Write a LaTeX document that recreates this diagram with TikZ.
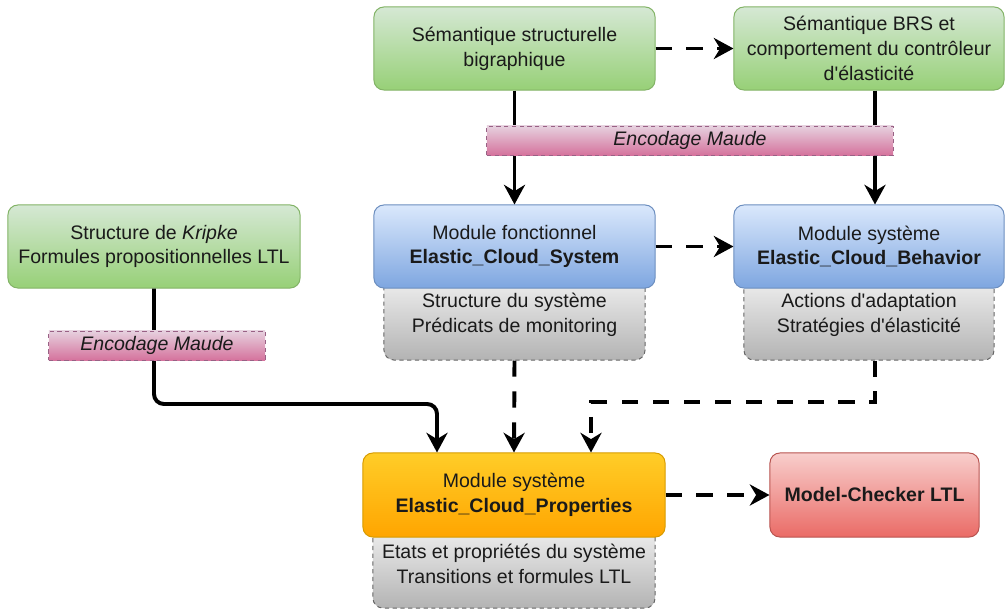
\documentclass[tikz,border=0pt]{standalone}
\usepackage{fontspec}
\setmainfont{Liberation Sans}
\usepackage{tikz}
\usetikzlibrary{arrows.meta,calc}
\usepackage{xcolor}
\definecolor{leafhi}{RGB}{213,232,212}
\definecolor{leaflo}{RGB}{151,208,119}
\definecolor{leafline}{RGB}{130,179,102}
\definecolor{skyhi}{RGB}{218,232,252}
\definecolor{skylo}{RGB}{126,166,224}
\definecolor{skyline}{RGB}{108,142,191}
\definecolor{rosehi}{RGB}{230,208,222}
\definecolor{roselo}{RGB}{213,115,157}
\definecolor{roseline}{RGB}{153,97,133}
\definecolor{ashhi}{RGB}{245,245,245}
\definecolor{ashlo}{RGB}{179,179,179}
\definecolor{ashline}{RGB}{102,102,102}
\definecolor{amberhi}{RGB}{255,205,40}
\definecolor{amberlo}{RGB}{255,165,0}
\definecolor{amberline}{RGB}{215,155,0}
\definecolor{corahi}{RGB}{248,206,204}
\definecolor{coralo}{RGB}{234,107,102}
\definecolor{coraline}{RGB}{184,84,80}
\definecolor{ink}{RGB}{26,26,26}
\newcommand{\apos}{\textquotesingle}

\begin{document}
\begin{tikzpicture}[x=0.025cm, y=-0.025cm,
  font=\fontsize{13.9}{17.7}\selectfont,
  box/.style={rounded corners=7pt, align=center, inner sep=0pt, line width=0.7pt, text=ink},
  leafbox/.style={box, top color=leafhi, bottom color=leaflo, draw=leafline},
  skybox/.style={box, top color=skyhi, bottom color=skylo, draw=skyline},
  ashbox/.style={box, top color=ashhi, bottom color=ashlo, draw=ashline, dash pattern=on 3pt off 2.5pt},
  amberbox/.style={box, top color=amberhi, bottom color=amberlo, draw=amberline},
  corabox/.style={box, top color=corahi, bottom color=coralo, draw=coraline},
  enctag/.style={align=center, inner sep=0pt, line width=0.7pt, text=ink, top color=rosehi, bottom color=roselo, draw=roseline, dash pattern=on 3pt off 2.5pt, minimum height=0.725cm, font=\fontsize{13.9}{17.7}\selectfont\itshape},
  flow/.style={line width=2.8pt, -{Stealth[length=14pt,width=15pt,inset=4.5pt]}},
  dflow/.style={flow, dash pattern=on 11.5pt off 10.5pt}]
  \useasboundingbox (0,0) rectangle (1006,610);

  % sub boxes first, the modules hide their tops
  \node[ashbox, minimum width=6.525cm, minimum height=2.25cm] (fsub) at (514.5,315)
    {Structure du système\\Prédicats de monitoring};
  \node[ashbox, minimum width=6.25cm, minimum height=2.25cm] (bsub) at (869,315)
    {Actions d\apos adaptation\\Stratégies d\apos élasticité};
  \node[ashbox, minimum width=7.05cm, minimum height=2.2cm] (psub) at (514,564)
    {Etats et propriétés du système\\Transitions et formules LTL};

  \node[leafbox, minimum width=7.025cm, minimum height=2.075cm] (semstruct) at (514.5,48.5)
    {Sémantique structurelle\\bigraphique};
  \node[leafbox, minimum width=6.75cm, minimum height=2.075cm] (sembrs) at (869,48.5)
    {Sémantique BRS et\\comportement du contrôleur\\d\apos élasticité};
  \node[leafbox, minimum width=7.3cm, minimum height=2.075cm] (kripke) at (154,246.5)
    {Structure de \textit{Kripke}\\Formules propositionnelles LTL};
  \node[skybox, minimum width=7.025cm, minimum height=2.075cm] (modfct) at (514.5,246.5)
    {Module fonctionnel\\\textbf{Elastic\_Cloud\_System}};
  \node[skybox, minimum width=6.75cm, minimum height=2.075cm] (modbeh) at (869,246.5)
    {Module système\\\textbf{Elastic\_Cloud\_Behavior}};
  \node[amberbox, minimum width=7.55cm, minimum height=2.1cm] (modprop) at (514,495)
    {Module système\\\textbf{Elastic\_Cloud\_Properties}};
  \node[corabox, minimum width=5.225cm, minimum height=2.1cm] (mcheck) at (874.5,495)
    {\textbf{Model-Checker LTL}};

  \coordinate (kbend) at (154,404);
  \coordinate (bbend) at (875,402);

  \draw[dflow] (semstruct) -- (sembrs);
  \draw[flow] (semstruct.south) -- (modfct.north);
  \draw[flow] ($(sembrs.south)+(6,0)$) -- ($(modbeh.north)+(6,0)$);
  \draw[dflow] (modfct) -- (modbeh);
  \draw[flow, rounded corners=7pt] (kripke.south) -- (kbend) -| ($(modprop.north)+(-77,0)$);
  \draw[dflow] (fsub.south) -- (modprop.north);
  \draw[dflow] ($(bsub.south)+(6,0)$) -- (bbend) -| ($(modprop.north)+(77,0)$);
  \draw[dflow] (modprop) -- (mcheck);

  % the tags sit over the lines
  \node[enctag, minimum width=10.15cm] (encmaude) at (690,140.5) {Encodage Maude};
  \node[enctag, minimum width=5.4cm] (enckripke) at (157,345.5) {Encodage Maude};
\end{tikzpicture}
\end{document}
